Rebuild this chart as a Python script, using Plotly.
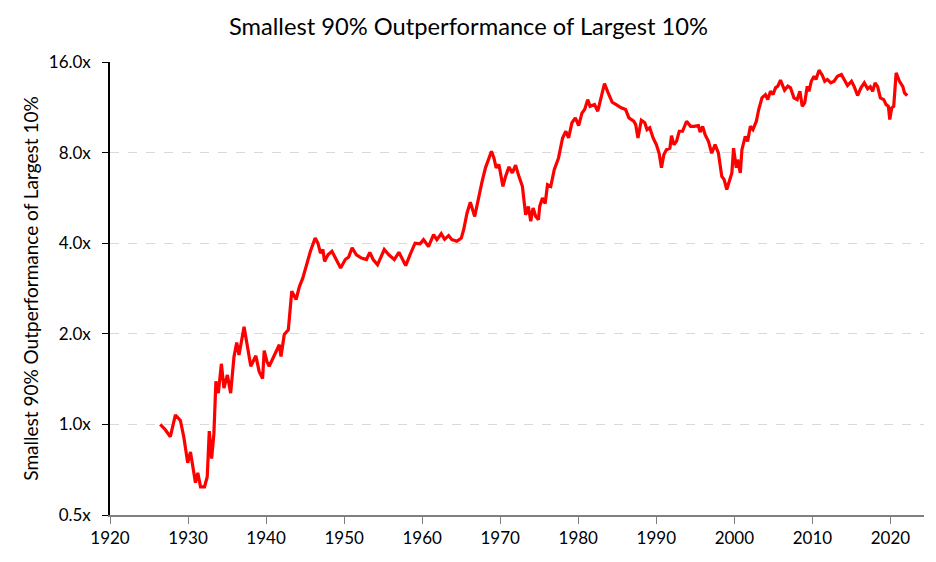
import plotly.graph_objects as go

years = [
    1926.44, 1927.09, 1927.73, 1928.38, 1929.02, 1929.45, 1929.96, 1930.31, 1930.95, 1931.25,
    1931.60, 1932.11, 1932.46, 1932.72, 1933.02, 1933.31, 1933.57, 1933.88, 1934.27, 1934.60,
    1935.04, 1935.46, 1935.89, 1936.24, 1936.53, 1937.18, 1938.04, 1938.69, 1939.11, 1939.55,
    1939.76, 1940.10, 1940.40, 1941.04, 1941.69, 1941.91, 1942.33, 1942.85, 1943.29, 1943.84,
    1944.27, 1944.70, 1945.13, 1945.68, 1946.29, 1946.64, 1946.97, 1947.28, 1947.49, 1947.93,
    1948.44, 1949.00, 1949.55, 1950.15, 1950.58, 1951.02, 1951.57, 1952.22, 1952.86, 1953.29,
    1953.72, 1954.28, 1954.57, 1955.14, 1955.73, 1956.43, 1957.02, 1957.46, 1957.89, 1958.44,
    1959.09, 1959.73, 1960.17, 1960.81, 1961.46, 1961.88, 1962.44, 1962.87, 1963.39, 1963.81,
    1964.46, 1965.01, 1965.32, 1965.75, 1966.17, 1966.73, 1967.24, 1967.68, 1968.11, 1968.54,
    1968.88, 1969.19, 1969.48, 1969.83, 1970.35, 1970.68, 1971.12, 1971.55, 1971.97, 1972.32,
    1972.84, 1973.26, 1973.61, 1973.91, 1974.21, 1974.55, 1974.90, 1975.06, 1975.41, 1975.76,
    1976.06, 1976.48, 1976.92, 1977.47, 1977.99, 1978.41, 1978.76, 1979.19, 1979.63, 1980.05,
    1980.48, 1980.82, 1981.21, 1981.51, 1982.08, 1982.50, 1982.93, 1983.36, 1983.79, 1984.34,
    1984.86, 1985.50, 1986.07, 1986.49, 1987.10, 1987.36, 1987.65, 1988.08, 1988.52, 1988.81,
    1989.16, 1989.59, 1990.01, 1990.36, 1990.66, 1990.97, 1991.30, 1991.74, 1991.95, 1992.25,
    1992.59, 1992.94, 1993.36, 1993.88, 1994.39, 1994.83, 1995.39, 1995.61, 1995.94, 1996.25,
    1996.68, 1997.10, 1997.53, 1997.96, 1998.39, 1998.69, 1999.03, 1999.38, 1999.68, 1999.90,
    2000.24, 2000.41, 2000.76, 2000.97, 2001.40, 2001.70, 2002.05, 2002.38, 2002.82, 2003.12,
    2003.54, 2003.98, 2004.28, 2004.63, 2004.96, 2005.27, 2005.57, 2005.91, 2006.43, 2006.86,
    2007.20, 2007.63, 2008.05, 2008.40, 2008.70, 2009.01, 2009.34, 2009.56, 2009.86, 2010.21,
    2010.46, 2010.85, 2011.28, 2011.58, 2011.92, 2012.36, 2012.78, 2013.21, 2013.72, 2014.07,
    2014.50, 2015.01, 2015.36, 2015.79, 2016.22, 2016.65, 2017.08, 2017.42, 2017.72, 2018.03,
    2018.36, 2018.71, 2019.14, 2019.45, 2019.74, 2019.91, 2020.17, 2020.42, 2020.73, 2021.16,
    2021.59, 2021.80, 2022.15,
]

ratio = [
    1.00, 0.96, 0.91, 1.075, 1.03, 0.91, 0.745, 0.81, 0.64, 0.69,
    0.62, 0.62, 0.67, 0.95, 0.77, 0.93, 1.39, 1.27, 1.59, 1.32,
    1.46, 1.27, 1.68, 1.87, 1.70, 2.11, 1.56, 1.69, 1.50, 1.42,
    1.76, 1.62, 1.56, 1.70, 1.84, 1.68, 1.99, 2.06, 2.77, 2.60,
    2.87, 3.06, 3.35, 3.76, 4.16, 4.00, 3.71, 3.81, 3.48, 3.66,
    3.76, 3.53, 3.31, 3.53, 3.60, 3.86, 3.66, 3.57, 3.53, 3.73,
    3.53, 3.39, 3.53, 3.81, 3.66, 3.53, 3.73, 3.53, 3.37, 3.66,
    4.00, 3.98, 4.11, 3.90, 4.27, 4.11, 4.30, 4.12, 4.24, 4.11,
    4.06, 4.16, 4.44, 5.04, 5.47, 4.91, 5.72, 6.42, 7.12, 7.68,
    8.08, 7.68, 7.12, 7.30, 6.18, 6.67, 7.17, 6.85, 7.27, 6.76,
    6.18, 4.97, 5.30, 4.73, 5.24, 4.91, 4.79, 5.30, 5.65, 5.42,
    6.26, 6.18, 7.02, 7.68, 8.95, 9.42, 8.95, 10.05, 10.43, 9.84,
    10.84, 11.12, 12.00, 11.40, 11.55, 10.98, 12.31, 13.57, 12.70, 11.76,
    11.55, 11.27, 11.12, 10.43, 10.17, 9.91, 8.95, 10.25, 10.05, 9.54,
    9.68, 8.95, 8.50, 7.96, 7.12, 7.88, 8.18, 8.28, 9.11, 8.50,
    8.72, 9.42, 9.42, 10.17, 9.78, 9.78, 9.84, 9.35, 9.78, 9.18,
    8.72, 7.96, 8.50, 7.96, 6.67, 6.51, 6.03, 6.51, 6.85, 8.28,
    7.12, 7.58, 6.85, 8.18, 9.06, 8.72, 9.78, 9.54, 10.17, 11.12,
    12.16, 12.47, 12.00, 12.79, 12.47, 13.13, 13.30, 13.92, 12.90, 13.30,
    13.13, 12.16, 12.00, 12.79, 11.40, 11.70, 13.30, 12.79, 13.81, 14.35,
    14.00, 15.03, 14.44, 13.81, 14.00, 13.64, 13.81, 14.35, 14.54, 14.00,
    13.36, 13.81, 13.25, 12.38, 13.13, 13.64, 13.03, 13.25, 12.79, 13.64,
    13.25, 12.16, 12.00, 11.55, 11.40, 10.30, 11.27, 11.40, 14.72, 13.81,
    13.25, 12.64, 12.38,
]

y_ticks = [0.5, 1, 2, 4, 8, 16]
y_tick_labels = ["0.5x", "1.0x", "2.0x", "4.0x", "8.0x", "16.0x"]
x_ticks = list(range(1920, 2030, 10))

title_text = "Smallest 90% Outperformance of Largest 10%"
font_family = "Lato, 'Open Sans', sans-serif"

fig = go.Figure()
fig.add_trace(go.Scatter(
    x=years, y=ratio, mode="lines",
    line=dict(color="#FF0000", width=3.2),
    showlegend=False, hoverinfo="x+y",
))

fig.update_layout(
    width=936, height=562,
    margin=dict(l=102, r=20, t=54, b=55, autoexpand=False),
    paper_bgcolor="white", plot_bgcolor="white",
    font=dict(family=font_family, color="#000000"),
    title=dict(text=title_text, x=0.492, xanchor="center", y=0.966, yanchor="middle",
               font=dict(size=23.7, family=font_family, color="#000000")),
)

fig.update_xaxes(
    range=[1920, 2024.3],
    tickmode="array", tickvals=x_ticks, ticktext=[str(v) for v in x_ticks],
    showgrid=False, zeroline=False,
    showline=True, linecolor="#7f7f7f", linewidth=1.5,
    ticks="outside", ticklen=7, tickcolor="#7f7f7f", tickwidth=1,
    tickfont=dict(size=17, family=font_family, color="#000000"),
    automargin=False,
)

fig.update_yaxes(
    type="log",
    range=[-0.30103, 1.20412],
    tickmode="array", tickvals=y_ticks, ticktext=y_tick_labels,
    showgrid=True, gridcolor="#D9D9D9", griddash="dash", gridwidth=1,
    zeroline=False,
    showline=True, linecolor="#000000", linewidth=1.5,
    ticks="outside", ticklen=6, tickcolor="#000000", tickwidth=1,
    ticklabelstandoff=8,
    tickfont=dict(size=17, family=font_family, color="#000000"),
    title=dict(text=title_text, font=dict(size=19, family=font_family, color="#000000"),
               standoff=5),
    automargin=False,
)

fig.write_html("out.html")
